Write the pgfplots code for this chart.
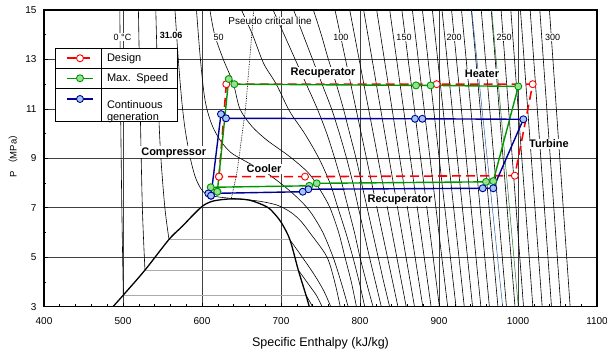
\documentclass[border=0pt]{standalone}
\usepackage{fontspec}
\setmainfont{Liberation Sans}
\newfontfamily\cjk{Noto Sans CJK SC}
\usepackage{pgfplots}
\pgfplotsset{compat=1.18}
\definecolor{dred}{RGB}{255,0,0}
\definecolor{dgreen}{RGB}{0,150,0}
\definecolor{lgreen}{RGB}{150,225,150}
\definecolor{dblue}{RGB}{0,0,150}
\definecolor{lblue}{RGB}{160,200,245}
\definecolor{thinblue}{RGB}{40,90,170}
\definecolor{thingreen}{RGB}{30,110,30}
\pgfplotsset{
  iso/.style={black, line width=0.6pt, forget plot, smooth, no markers},
  isos/.style={black, line width=0.6pt, forget plot, no markers},
}
\tikzset{
  lab/.style={fill=white, inner sep=0.6pt, font=\fontsize{9}{10}\selectfont},
  blab/.style={fill=white, inner sep=1pt, font=\bfseries\fontsize{11}{12}\selectfont},
}
\begin{document}
\begin{tikzpicture}
\useasboundingbox (-44pt,-49.3pt) rectangle (563pt,306.7pt);
\begin{axis}[
  at={(0pt,0pt)}, anchor=south west,
  scale only axis, width=553pt, height=296.7pt,
  xmin=400, xmax=1100, ymin=3, ymax=15,
  xtick={400,500,...,1100}, ytick={3,5,...,15},
  minor x tick num=4, minor y tick num=1,
  tick pos=left, tick align=inside,
  major tick length=4pt, minor tick length=2.5pt,
  every tick/.style={black, line width=0.6pt},
  grid=major, major grid style={line width=0.6pt, black!75},
  axis line style={line width=1.1pt},
  /pgf/number format/assume math mode=true,
  /pgf/number format/1000 sep={},
  ticklabel style={font=\fontsize{10}{12}\selectfont},
  xticklabel style={yshift=-7pt},
  yticklabel style={xshift=-4pt},
  xlabel={Specific Enthalpy (kJ/kg)},
  xlabel style={font=\fontsize{12.5}{14}\selectfont, at={(axis description cs:0.5,-0.1234)}, anchor=center},
  ylabel={P {\cjk （}MPa{\cjk ）}},
  ylabel style={font=\fontsize{9.5}{11}\selectfont, at={(axis description cs:-0.056,0.515)}, anchor=center},
  legend cell align=left,
  legend image code/.code={\path[draw=none,fill=none] (-11.7pt,-2pt) rectangle (34.3pt,2pt); \draw[mark repeat=2,mark phase=2,#1] plot coordinates {(0pt,0pt) (13.3pt,0pt) (26.7pt,0pt)};},
  legend style={at={(0.0199,0.871)}, anchor=north west, draw=black, fill=white,
    inner sep=0pt, outer sep=0pt, row sep=0pt, column sep=0pt,
    font=\fontsize{11}{12.5}\selectfont,
    nodes={inner xsep=6pt, inner ysep=0pt, text width=64pt, minimum height=20pt, align=left},
    /tikz/row 3/.style={nodes={minimum height=33.4pt, yshift=-6pt}}},
]
% ---- isotherms (liquid / supercritical side)
\addplot[iso] coordinates {(500.4,3.47) (498.5,7) (497,11) (496,15)};
\addplot[iso] coordinates {(731.6,3.47) (736,3.23) (740,3.0)};
\addplot[iso] coordinates {(527.8,4.48) (524.5,7) (521.8,11) (519.5,15)};
\addplot[iso] coordinates {(721.9,4.48) (735,3.9) (745,3.45) (752,3.0)};
\addplot[iso] coordinates {(558.2,5.72) (553,7) (548,9) (545,11) (541.5,15)};
\addplot[iso] coordinates {(711.4,5.70) (727,5.0) (742,4.3) (754,3.65) (763,3.0)};
\addplot[iso] coordinates {(565.8,15) (570,13) (574.3,11.36) (578.5,10.2) (584.8,9.07) (592,8.2) (601.6,7.65) (615,7.47) (637,7.38) (652,7.34) (672,7.27) (694,7.12) (711,6.85) (724,6.5) (737,5.97) (758,5.02) (768,4.0) (775,3.0)};
\addplot[iso] coordinates {(593,15) (598,13) (603.8,11.36) (612,10.4) (622.8,9.74) (636,9.25) (652.3,8.93) (680,8.45) (705,7.85) (724,7.31) (738,6.8) (753,6.0) (766,5.0) (776,4.0) (785,3.0)};
\addplot[iso] coordinates {(610,15) (616,14) (627,13) (639.6,12.03) (648,11) (663,10.3) (682,9.74) (711,9.07) (735,8.4) (750,7.7) (762,7) (773,6) (781,5) (789,4) (795.5,3)};
\addplot[iso] coordinates {(650,15) (664,14) (678,12.84) (694,12) (711,10.9) (730,10) (748,9) (762,8) (772,7) (782,6) (791,5) (799,4) (806,3)};
\addplot[iso] coordinates {(690,15) (704,14) (718,13) (732,12) (746,11) (758,10) (768,9) (777,8) (785,7) (793,6) (800,5) (808,4) (816.5,3)};
\addplot[iso] coordinates {(716,15) (728,14) (740,13) (752,12) (764,11) (774,10) (783,9) (791,8) (798,7) (805,6) (812,5) (819.5,4) (827,3)};
\addplot[iso] coordinates {(741,15) (751,14) (760,13) (770,12) (779,11) (787,10) (795,9) (802,8) (809,7) (816,6) (823,5) (830,4) (837.5,3)};
\addplot[isos] coordinates {(768.4,15) (848,3)};
\addplot[isos] coordinates {(787.0,15) (858.5,3)};
\addplot[isos] coordinates {(804.6,15) (869.0,3)};
\addplot[isos] coordinates {(821.1,15) (879.5,3)};
\addplot[isos] coordinates {(837.6,15) (890.0,3)};
\addplot[isos] coordinates {(853.0,15) (900.5,3)};
\addplot[isos] coordinates {(866.3,15) (911.0,3)};
\addplot[isos] coordinates {(879.0,15) (921.5,3)};
\addplot[isos] coordinates {(891.6,15) (932.0,3)};
\addplot[isos] coordinates {(903.8,15) (942.5,3)};
\addplot[isos] coordinates {(915.9,15) (953.0,3)};
\addplot[isos] coordinates {(928.5,15) (963.8,3)};
\addplot[isos] coordinates {(941.0,15) (974.6,3)};
\addplot[isos] coordinates {(953.5,15) (985.4,3)};
\addplot[isos] coordinates {(966.1,15) (996.2,3)};
\addplot[isos] coordinates {(978.6,15) (1007.0,3)};
\addplot[isos] coordinates {(990.9,15) (1018.8,3)};
\addplot[isos] coordinates {(1003.1,15) (1030.6,3)};
\addplot[isos] coordinates {(1015.4,15) (1042.4,3)};
\addplot[isos] coordinates {(1027.6,15) (1054.2,3)};
\addplot[isos] coordinates {(1039.8,15) (1066.0,3)};
% ---- two-phase lines inside the dome
\addplot[gray!65, line width=1pt, forget plot] coordinates {(500.4,3.47) (731.6,3.47)};
\addplot[gray!65, line width=1pt, forget plot] coordinates {(527.8,4.48) (721.9,4.48)};
\addplot[gray!65, line width=1pt, forget plot] coordinates {(558.2,5.72) (711.4,5.72)};
% ---- saturation dome
\addplot[black, line width=1.3pt, smooth, forget plot] coordinates {(487.3,3.0) (500.4,3.47) (527.8,4.48) (558.2,5.72) (575,6.25) (590,6.75) (602,7.1) (615,7.28) (637,7.36) (660,7.31) (682,7.04) (692,6.75) (701,6.37) (711.4,5.70) (721.9,4.48) (731.6,3.47) (735.8,3.0)};
% ---- thin coloured lines
\addplot[thinblue, line width=0.5pt, forget plot] coordinates {(941.4,15) (980.6,3)};
\addplot[thingreen, line width=0.5pt, forget plot] coordinates {(966.7,15) (1000.4,3)};
% ---- pseudo critical line
\addplot[black, densely dotted, line width=0.7pt, smooth, forget plot] coordinates {(665.5,15) (663,14) (659,12.5) (655,11) (650,9.8) (644,8.4) (637,7.38)};
% ---- labels
\node[lab, font=\fontsize{10}{11}\selectfont] at (axis cs:686.1,14.55) {Pseudo critical line};
\node[lab] at (axis cs:499.4,13.9) {0 °C};
\node[lab, font=\bfseries\fontsize{9}{10}\selectfont] at (axis cs:560.8,13.98) {31.06};
\node[lab] at (axis cs:620.9,13.9) {50};
\node[lab] at (axis cs:775.7,13.9) {100};
\node[lab] at (axis cs:855.7,13.9) {150};
\node[lab] at (axis cs:919,13.9) {200};
\node[lab] at (axis cs:982.3,13.9) {250};
\node[lab] at (axis cs:1043.7,13.9) {300};
\node[blab] at (axis cs:753.2,12.45) {Recuperator};
\node[blab] at (axis cs:954.4,12.41) {Heater};
\node[blab] at (axis cs:564.2,9.24) {Compressor};
\node[blab] at (axis cs:678.5,8.57) {Cooler};
\node[blab] at (axis cs:1039.2,9.58) {Turbine};
\node[blab] at (axis cs:850.6,7.31) {Recuperator};
% ---- cycles
\addplot[dred, line width=1.6pt, dash pattern=on 9pt off 5pt, mark=*, mark size=3.5pt, mark options={solid, fill=white, draw=dred, line width=0.9pt}] coordinates {(621.5,8.26) (630.8,12.0) (897,12.0) (1018.6,12.0) (996,8.30) (730.4,8.26) (621.5,8.26)};
\addlegendentry{Design}
\addplot[dgreen, line width=1.4pt, mark=*, mark size=3.5pt, mark options={fill=lgreen, draw=dgreen, line width=0.9pt}] coordinates {(619.4,7.65) (633.8,12.21) (640.9,12.0) (870.9,11.95) (889.4,11.95) (1000.4,11.91) (968.7,8.08) (959.5,8.05) (745.2,7.99) (735.8,7.89) (611,7.83) (619.4,7.65)};
\addlegendentry{Max. Speed}
\addplot[dblue, line width=1.4pt, mark=*, mark size=3.5pt, mark options={fill=lblue, draw=dblue, line width=0.9pt}] coordinates {(611.4,7.49) (624,10.79) (630.4,10.62) (869.6,10.60) (878.9,10.60) (1006.8,10.58) (968.7,7.79) (955.3,7.79) (734.6,7.75) (727.5,7.65) (608,7.58) (611.4,7.49)};
\addlegendentry{Continuous generation}
\coordinate (LTL) at (axis description cs:0.0199,0.871);
\end{axis}
\draw[line width=0.6pt] (LTL) ++(46pt,0) -- ++(0,-73.4pt);
\draw[line width=0.6pt] (LTL) ++(0,-20pt) -- ++(122pt,0);
\draw[line width=0.6pt] (LTL) ++(0,-40pt) -- ++(122pt,0);
\end{tikzpicture}
\end{document}
